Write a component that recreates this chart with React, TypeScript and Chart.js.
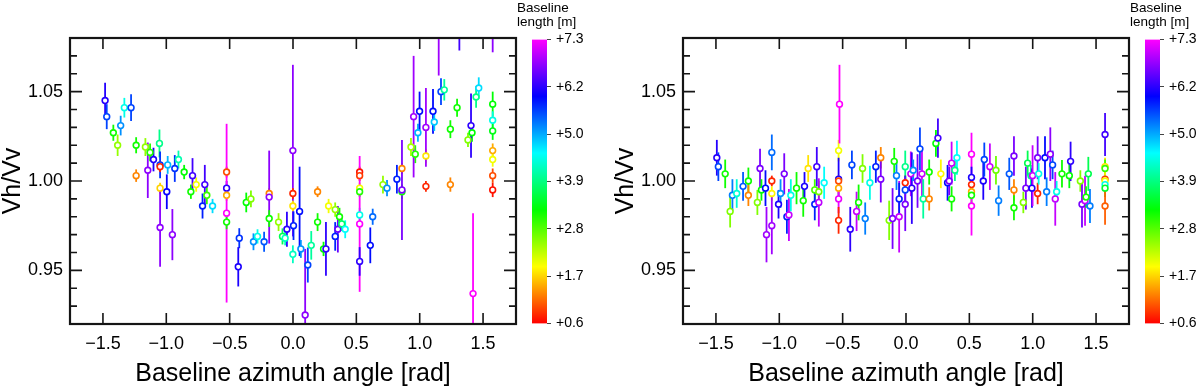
import React, { useEffect, useRef } from 'react';
import { Chart, registerables } from 'chart.js';

Chart.register(...registerables);

const FONT = '"Liberation Sans", Arial, Helvetica, sans-serif';

// ---------- Left panel data ----------
const leftAzimuth = [
  -1.483, -1.470, -1.418, -1.384, -1.360, -1.331, -1.278, -1.238, -1.238, -1.165,
  -1.146, -1.128, -1.101, -1.054, -1.049, -1.049, -1.049, -1.049, -0.996, -0.989,
  -0.952, -0.933, -0.904, -0.859, -0.806, -0.793, -0.764, -0.714, -0.696, -0.680,
  -0.635, -0.524, -0.524, -0.524, -0.524, -0.524, -0.424, -0.432, -0.369, -0.332,
  -0.312, -0.280, -0.228, -0.188, -0.188, -0.188, -0.114, -0.083, -0.062, -0.048,
  -0.001, -0.001, -0.001, 0.004, -0.001, 0.052, 0.062, 0.117, 0.096, 0.144,
  0.194, 0.194, 0.241, 0.260, 0.281, 0.333, 0.333, 0.354, 0.367, 0.385,
  0.412, 0.526, 0.526, 0.526, 0.526, 0.526, 0.526, 0.526, 0.610, 0.629,
  0.710, 0.742, 0.820, 0.860, 0.860, 0.860, 0.931, 0.965, 0.952, 0.986,
  0.999, 1.049, 1.049, 1.049, 1.105, 1.115, 1.168, 1.194, 1.150, 1.242,
  1.242, 1.295, 1.313, 1.381, 1.413, 1.405, 1.445, 1.466, 1.421, 1.576,
  1.576, 1.576, 1.576, 1.576, 1.576, 1.576, 1.576,
];
const leftRatio = [
  1.045, 1.036, 1.027, 1.020, 1.031, 1.041, 1.041, 1.003, 1.020, 1.019,
  1.006, 1.016, 1.012, 1.021, 1.009, 1.008, 0.996, 0.974, 0.994, 1.009,
  0.970, 1.007, 1.012, 1.005, 0.994, 1.003, 0.998, 0.986, 0.998, 0.992,
  0.986, 1.005, 0.996, 0.992, 0.982, 0.977, 0.968, 0.952, 0.988, 0.990,
  0.966, 0.969, 0.966, 0.993, 0.991, 0.979, 0.977, 0.969, 0.968, 0.973,
  1.017, 0.993, 0.986, 0.975, 0.959, 0.983, 0.962, 0.953, 0.925, 0.964,
  0.994, 0.977, 0.962, 0.962, 0.986, 0.984, 0.969, 0.973, 0.980, 0.976,
  0.973, 1.005, 1.003, 0.996, 0.994, 0.981, 0.976, 0.955, 0.964, 0.980,
  0.998, 0.996, 1.001, 1.007, 0.994, 0.995, 1.019, 1.015, 1.036, 1.027,
  1.039, 1.014, 0.997, 1.030, 1.039, 1.033, 1.050, 1.051, 1.092, 1.029,
  0.998, 1.041, 1.097, 1.023, 1.027, 1.031, 1.047, 1.052, 0.937, 1.043,
  1.034, 1.028, 1.017, 1.012, 1.003, 0.995, 1.100,
];
const leftError = [
  0.010, 0.007, 0.0045, 0.006, 0.0055, 0.0055, 0.0075, 0.0035, 0.0045, 0.005,
  0.0155, 0.005, 0.0066, 0.0078, 0.0075, 0.003, 0.003, 0.022, 0.0097, 0.005,
  0.0143, 0.0075, 0.005, 0.004, 0.004, 0.0098, 0.004, 0.007, 0.011, 0.005,
  0.004, 0.003, 0.004, 0.003, 0.050, 0.004, 0.0056, 0.011, 0.0055, 0.0047,
  0.0047, 0.004, 0.0056, 0.003, 0.026, 0.0047, 0.005, 0.0045, 0.004, 0.0098,
  0.048, 0.003, 0.003, 0.008, 0.005, 0.025, 0.005, 0.0098, 0.037, 0.008,
  0.003, 0.005, 0.004, 0.015, 0.004, 0.004, 0.008, 0.013, 0.005, 0.004,
  0.005, 0.003, 0.003, 0.003, 0.003, 0.004, 0.038, 0.008, 0.010, 0.0045,
  0.005, 0.0045, 0.008, 0.003, 0.004, 0.028, 0.005, 0.005, 0.034, 0.005,
  0.011, 0.004, 0.003, 0.022, 0.0125, 0.005, 0.0075, 0.006, 0.033, 0.005,
  0.004, 0.005, 0.024, 0.004, 0.005, 0.018, 0.006, 0.006, 0.045, 0.007,
  0.005, 0.005, 0.004, 0.004, 0.004, 0.004, 0.028,
];
const leftBaseline = [
  6.15, 5.6, 3.2, 2.5, 5.2, 4.5, 5.6, 1.3, 3.2, 2.5,
  6.7, 3.1, 6.1, 4.0, 5.7, 0.8, 1.7, 6.7, 6.0, 5.0,
  6.7, 5.7, 4.2, 3.3, 3.2, 6.3, 2.0, 5.8, 6.3, 3.0,
  4.8, 1.0, 6.2, 1.5, 7.3, 3.2, 5.7, 6.1, 3.3, 2.6,
  5.2, 4.5, 5.5, 1.3, 6.7, 3.2, 2.5, 3.7, 4.3, 6.2,
  6.7, 0.8, 1.8, 5.8, 4.3, 5.9, 5.2, 5.6, 6.7, 4.1,
  1.3, 3.2, 3.3, 6.2, 2.0, 2.5, 5.8, 6.5, 3.2, 3.8,
  4.6, 0.7, 0.9, 2.0, 3.1, 4.5, 7.3, 6.2, 5.9, 5.4,
  2.5, 5.2, 5.8, 1.3, 3.2, 6.6, 2.4, 3.1, 6.8, 5.0,
  5.9, 1.8, 0.8, 6.8, 5.9, 4.9, 5.6, 4.1, 6.8, 3.2,
  1.3, 3.2, 6.3, 2.6, 3.3, 6.2, 4.0, 4.8, 7.3, 3.3,
  4.5, 3.4, 1.5, 2.0, 1.0, 0.7, 6.7,
];

// ---------- Right panel data ----------
const rightAzimuth = [
  -1.493, -1.481, -1.427, -1.388, -1.370, -1.336, -1.286, -1.244, -1.244, -1.173,
  -1.152, -1.141, -1.109, -1.101, -1.059, -1.059, -1.059, -1.059, -1.006, -0.990,
  -0.961, -0.940, -0.924, -0.909, -0.864, -0.811, -0.801, -0.772, -0.720, -0.720,
  -0.704, -0.688, -0.688, -0.646, -0.532, -0.532, -0.532, -0.532, -0.532, -0.532,
  -0.525, -0.427, -0.440, -0.390, -0.374, -0.343, -0.322, -0.285, -0.238, -0.199,
  -0.199, -0.133, -0.106, -0.054, -0.093, -0.075, -0.054, -0.006, -0.006, -0.006,
  -0.006, 0.038, 0.046, 0.057, 0.091, 0.110, 0.126, 0.136, 0.183, 0.183,
  0.236, 0.252, 0.275, 0.328, 0.341, 0.360, 0.360, 0.386, 0.402, 0.517,
  0.517, 0.517, 0.517, 0.517, 0.517, 0.610, 0.618, 0.662, 0.710, 0.731,
  0.815, 0.852, 0.852, 0.852, 0.926, 0.946, 0.960, 0.986, 0.994, 0.999,
  1.039, 1.039, 1.047, 1.097, 1.110, 1.139, 1.157, 1.178, 1.189, 1.231,
  1.289, 1.299, 1.376, 1.389, 1.413, 1.421, 1.439, 1.452, 1.571, 1.571,
  1.571, 1.571, 1.571, 1.571, 1.571, 1.571,
];
const rightRatio = [
  1.013, 1.008, 1.004, 0.983, 0.992, 0.993, 0.997, 1.000, 0.992, 0.988,
  1.007, 0.995, 0.996, 0.970, 1.016, 1.000, 0.993, 0.975, 0.987, 0.993,
  1.004, 0.980, 0.981, 0.992, 0.996, 0.989, 0.997, 1.007, 0.995, 0.987,
  1.008, 0.994, 0.988, 0.999, 1.017, 1.001, 1.000, 0.996, 0.990, 0.978,
  1.043, 1.009, 0.973, 0.983, 0.988, 1.007, 0.979, 0.999, 1.008, 1.013,
  1.001, 0.978, 0.979, 0.980, 1.011, 1.003, 0.990, 1.008, 0.999, 0.995,
  0.987, 1.004, 0.996, 1.006, 1.000, 1.018, 1.004, 0.990, 1.005, 0.990,
  1.021, 1.024, 1.004, 0.999, 1.000, 1.010, 0.990, 1.006, 1.013, 1.015,
  1.002, 0.998, 0.994, 0.992, 0.986, 1.000, 1.012, 1.008, 1.006, 0.989,
  1.004, 1.014, 0.995, 0.985, 0.988, 0.996, 1.010, 1.003, 0.996, 1.003,
  1.013, 0.993, 1.004, 1.013, 0.994, 1.015, 1.009, 0.990, 0.994, 1.004,
  1.003, 1.011, 1.000, 0.987, 0.989, 0.991, 1.004, 0.986, 1.026, 1.008,
  1.007, 1.001, 1.000, 0.998, 0.996, 0.986,
];
const rightError = [
  0.010, 0.008, 0.008, 0.009, 0.009, 0.008, 0.008, 0.0075, 0.006, 0.007,
  0.011, 0.006, 0.010, 0.0155, 0.010, 0.003, 0.004, 0.016, 0.008, 0.008,
  0.0115, 0.0095, 0.0145, 0.009, 0.009, 0.009, 0.008, 0.0075, 0.006, 0.009,
  0.011, 0.006, 0.0135, 0.009, 0.006, 0.012, 0.003, 0.003, 0.008, 0.0075,
  0.022, 0.008, 0.0125, 0.011, 0.010, 0.008, 0.009, 0.0095, 0.009, 0.006,
  0.013, 0.011, 0.017, 0.020, 0.0075, 0.008, 0.009, 0.009, 0.004, 0.008,
  0.015, 0.0125, 0.020, 0.006, 0.015, 0.012, 0.0135, 0.011, 0.007, 0.0065,
  0.0075, 0.011, 0.008, 0.010, 0.008, 0.012, 0.007, 0.006, 0.0095, 0.012,
  0.006, 0.004, 0.004, 0.005, 0.0165, 0.0105, 0.0095, 0.013, 0.008, 0.0085,
  0.009, 0.011, 0.006, 0.007, 0.006, 0.012, 0.007, 0.006, 0.011, 0.017,
  0.012, 0.006, 0.006, 0.012, 0.008, 0.015, 0.008, 0.015, 0.006, 0.0077,
  0.007, 0.011, 0.006, 0.013, 0.014, 0.006, 0.0095, 0.0095, 0.012, 0.005,
  0.005, 0.005, 0.005, 0.005, 0.005, 0.0105,
];
const rightBaseline = [
  6.15, 5.6, 3.2, 2.6, 5.3, 4.4, 5.5, 3.2, 1.3, 2.6,
  6.6, 3.3, 5.9, 6.8, 5.4, 0.8, 1.9, 6.8, 6.1, 5.2,
  6.6, 5.8, 7.0, 4.5, 3.2, 3.2, 6.1, 1.8, 2.9, 5.8,
  6.3, 2.7, 6.95, 4.6, 2.0, 6.1, 1.0, 1.5, 7.2, 0.8,
  7.3, 5.6, 6.2, 7.0, 3.2, 2.6, 5.3, 4.5, 5.8, 1.3,
  6.6, 2.6, 6.6, 7.0, 3.2, 5.3, 5.8, 4.0, 0.8, 5.6,
  6.6, 7.0, 6.2, 5.2, 6.6, 5.6, 7.0, 4.1, 3.2, 1.3,
  3.3, 6.3, 1.9, 5.9, 6.6, 7.0, 3.2, 4.0, 4.6, 7.3,
  6.1, 0.8, 1.5, 3.2, 7.3, 6.1, 5.6, 7.0, 2.7, 5.3,
  5.5, 6.6, 1.3, 3.2, 2.6, 6.6, 3.7, 4.0, 6.1, 7.0,
  6.6, 0.8, 4.5, 5.9, 5.3, 6.7, 5.6, 7.0, 4.5, 3.2,
  3.3, 6.2, 2.6, 6.6, 7.0, 3.2, 3.7, 5.3, 6.3, 1.8,
  3.0, 0.9, 2.0, 4.5, 3.5, 1.1,
];

// ---------- Axes / ticks ----------
const X_MIN = -1.76;
const X_MAX = 1.76;
const Y_MIN = 0.92;
const Y_MAX = 1.08;
const xTickValues = [-1.5, -1.0, -0.5, 0.0, 0.5, 1.0, 1.5];
const xTickLabels = ['\u22121.5', '\u22121.0', '\u22120.5', '0.0', '0.5', '1.0', '1.5'];
const yTickValues = [0.95, 1.0, 1.05];
const yTickLabels = ['0.95', '1.00', '1.05'];
const yMinorTicks = [0.93, 0.94, 0.96, 0.97, 0.98, 0.99, 1.01, 1.02, 1.03, 1.04, 1.06, 1.07];

const CB_MIN = 0.6;
const CB_MAX = 7.3;
const cbTickValues = [0.6, 1.717, 2.833, 3.95, 5.067, 6.183, 7.3];
const cbTickLabels = ['+0.6', '+1.7', '+2.8', '+3.9', '+5.0', '+6.2', '+7.3'];

function hueFor(b: number) {
  return (300 * (b - CB_MIN)) / (CB_MAX - CB_MIN);
}
function baselineColor(b: number) {
  return `hsl(${hueFor(b).toFixed(1)}, 100%, 50%)`;
}

const errorBarPlugin = {
  id: 'errorBars',
  beforeDatasetsDraw(chart: any) {
    const { ctx, chartArea: a, scales } = chart;
    const xs = scales.x;
    const ys = scales.y;
    ctx.save();
    ctx.beginPath();
    ctx.rect(a.left, a.top, a.right - a.left, a.bottom - a.top);
    ctx.clip();
    ctx.lineWidth = 1.8;
    chart.data.datasets.forEach((ds: any) => {
      ds.data.forEach((pt: any, i: number) => {
        const px = xs.getPixelForValue(pt.x);
        ctx.strokeStyle = ds.pointBorderColor[i];
        ctx.beginPath();
        ctx.moveTo(px, ys.getPixelForValue(pt.y - pt.e));
        ctx.lineTo(px, ys.getPixelForValue(pt.y + pt.e));
        ctx.stroke();
      });
    });
    ctx.restore();
  },
};

const framePlugin = {
  id: 'frameTicks',
  afterDatasetsDraw(chart: any) {
    const { ctx, chartArea: a, scales } = chart;
    const xs = scales.x;
    const ys = scales.y;
    ctx.save();
    ctx.strokeStyle = '#151515';
    ctx.lineWidth = 1.6;
    ctx.beginPath();
    xs.ticks.forEach((t: any) => {
      const p = xs.getPixelForValue(t.value);
      ctx.moveTo(p, a.bottom);
      ctx.lineTo(p, a.bottom - 11);
      ctx.moveTo(p, a.top);
      ctx.lineTo(p, a.top + 11);
    });
    ys.ticks.forEach((t: any) => {
      const p = ys.getPixelForValue(t.value);
      ctx.moveTo(a.left, p);
      ctx.lineTo(a.left + 12, p);
      ctx.moveTo(a.right, p);
      ctx.lineTo(a.right - 12, p);
    });
    yMinorTicks.forEach((v) => {
      const p = ys.getPixelForValue(v);
      ctx.moveTo(a.left, p);
      ctx.lineTo(a.left + 7, p);
      ctx.moveTo(a.right, p);
      ctx.lineTo(a.right - 7, p);
    });
    ctx.stroke();
    ctx.lineWidth = 2.2;
    ctx.strokeRect(a.left, a.top, a.right - a.left, a.bottom - a.top);
    ctx.restore();
  },
};

function Panel(props: {
  offset: number;
  azimuth: number[];
  ratio: number[];
  error: number[];
  baseline: number[];
}) {
  const { offset, azimuth, ratio, error, baseline } = props;
  const mainRef = useRef<HTMLCanvasElement | null>(null);
  const cbRef = useRef<HTMLCanvasElement | null>(null);

  useEffect(() => {
    const colors = baseline.map(baselineColor);
    const main = new Chart(mainRef.current as HTMLCanvasElement, {
      type: 'scatter',
      data: {
        datasets: [
          {
            data: azimuth.map((x, i) => ({ x, y: ratio[i], e: error[i] })),
            pointRadius: 2.9,
            pointHoverRadius: 2.9,
            pointBorderWidth: 1.6,
            pointBackgroundColor: '#ffffff',
            pointBorderColor: colors,
            showLine: false,
          } as any,
        ],
      },
      options: {
        responsive: false,
        animation: false,
        events: [],
        layout: { padding: { top: 38, right: 14, left: 0, bottom: 0 } },
        plugins: { legend: { display: false }, tooltip: { enabled: false } },
        scales: {
          x: {
            type: 'linear',
            min: X_MIN,
            max: X_MAX,
            grid: { display: false, drawTicks: false },
            border: { display: false },
            afterBuildTicks: (s: any) => {
              s.ticks = xTickValues.map((v) => ({ value: v }));
            },
            afterFit: (s: any) => {
              s.height = 68;
            },
            ticks: {
              autoSkip: false,
              maxRotation: 0,
              padding: 9,
              color: '#000',
              font: { family: FONT, size: 18 },
              callback: (_v: any, i: number) => xTickLabels[i],
            },
            title: {
              display: true,
              text: 'Baseline azimuth angle [rad]',
              color: '#000',
              font: { family: FONT, size: 25, lineHeight: 1.2 },
              padding: { top: 0, bottom: 3 },
            },
          } as any,
          y: {
            type: 'linear',
            min: Y_MIN,
            max: Y_MAX,
            grid: { display: false, drawTicks: false },
            border: { display: false },
            afterBuildTicks: (s: any) => {
              s.ticks = yTickValues.map((v) => ({ value: v }));
            },
            afterFit: (s: any) => {
              s.width = 70;
            },
            ticks: {
              autoSkip: false,
              padding: 7,
              color: '#000',
              font: { family: FONT, size: 18 },
              callback: (_v: any, i: number) => yTickLabels[i],
            },
            title: {
              display: true,
              text: 'Vh/Vv',
              color: '#000',
              font: { family: FONT, size: 25, lineHeight: 1 },
              padding: { top: 1, bottom: 0 },
            },
          } as any,
        },
      },
      plugins: [errorBarPlugin, framePlugin],
    });

    const cb = new Chart(cbRef.current as HTMLCanvasElement, {
      type: 'bar',
      data: {
        labels: [''],
        datasets: [
          {
            data: [[CB_MIN, CB_MAX]] as any,
            xAxisID: 'x',
            yAxisID: 'y',
            categoryPercentage: 1,
            barPercentage: 1,
            borderWidth: 0,
            backgroundColor: (ctx: any) => {
              const chart = ctx.chart;
              const a = chart.chartArea;
              if (!a) return '#ff0000';
              const ys = chart.scales.y;
              const g = chart.ctx.createLinearGradient(
                0,
                ys.getPixelForValue(CB_MIN),
                0,
                ys.getPixelForValue(CB_MAX)
              );
              for (let k = 0; k <= 20; k++) {
                const b = CB_MIN + ((CB_MAX - CB_MIN) * k) / 20;
                g.addColorStop(k / 20, baselineColor(b));
              }
              return g;
            },
          } as any,
        ],
      },
      options: {
        responsive: false,
        animation: false,
        events: [],
        layout: { padding: { top: 1, right: 0, left: 0, bottom: 68.5 } },
        plugins: {
          legend: { display: false },
          tooltip: { enabled: false },
          title: {
            display: true,
            text: ['Baseline', 'length [m]'],
            align: 'start',
            color: '#000',
            font: { family: FONT, size: 13.5, weight: 'normal', lineHeight: 1.07 },
            padding: { top: 0, bottom: 9.6 },
          },
        },
        scales: {
          x: { type: 'category', display: false },
          yl: {
            type: 'linear',
            position: 'left',
            display: true,
            grid: { display: false, drawTicks: false },
            border: { display: false },
            ticks: { display: false },
            afterFit: (s: any) => {
              s.width = 15;
            },
          } as any,
          y: {
            type: 'linear',
            position: 'right',
            min: CB_MIN,
            max: CB_MAX,
            grid: {
              display: true,
              drawOnChartArea: false,
              drawTicks: true,
              tickLength: 4,
              color: '#444',
              lineWidth: 1,
            },
            border: { display: false },
            afterBuildTicks: (s: any) => {
              s.ticks = cbTickValues.map((v) => ({ value: v }));
            },
            afterFit: (s: any) => {
              s.width = 53;
            },
            ticks: {
              autoSkip: false,
              padding: 5,
              color: '#000',
              font: { family: FONT, size: 14 },
              callback: (_v: any, i: number) => cbTickLabels[i],
            },
          } as any,
        },
      },
    });

    return () => {
      main.destroy();
      cb.destroy();
    };
  }, []);

  return (
    <>
      <canvas
        ref={mainRef}
        width={530}
        height={392}
        style={{ position: 'absolute', left: offset, top: 0, width: 530, height: 392, display: 'block' }}
      />
      <canvas
        ref={cbRef}
        width={83}
        height={392}
        style={{ position: 'absolute', left: offset + 517, top: 0, width: 83, height: 392, display: 'block' }}
      />
    </>
  );
}

export default function App() {
  return (
    <div
      style={{
        position: 'absolute',
        left: 0,
        top: 0,
        width: 1200,
        height: 392,
        background: '#ffffff',
        overflow: 'hidden',
      }}
    >
      <Panel offset={0} azimuth={leftAzimuth} ratio={leftRatio} error={leftError} baseline={leftBaseline} />
      <Panel offset={613} azimuth={rightAzimuth} ratio={rightRatio} error={rightError} baseline={rightBaseline} />
    </div>
  );
}
